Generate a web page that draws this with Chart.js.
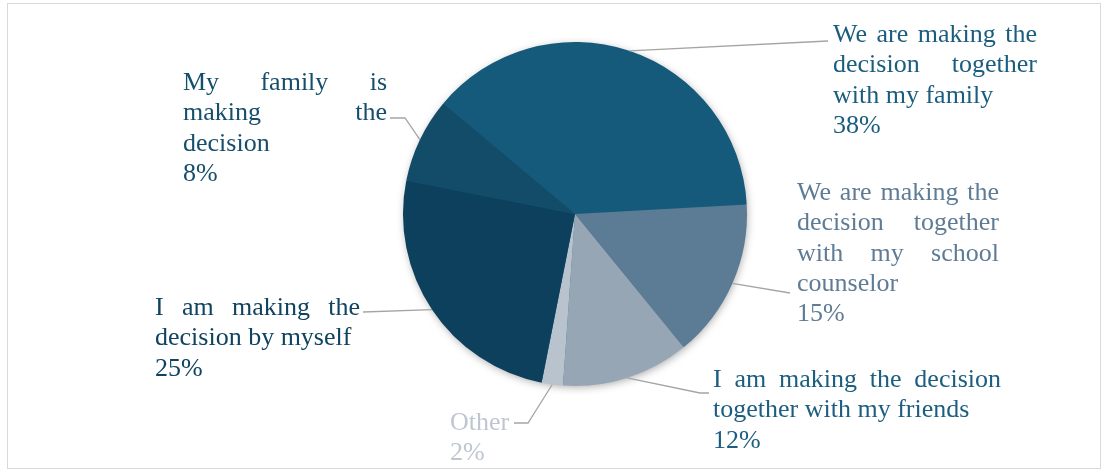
<!DOCTYPE html>
<html>
<head>
<meta charset="utf-8">
<title>Decision making</title>
<script src="https://cdn.jsdelivr.net/npm/chart.js@4"></script>
<style>
  html, body { margin: 0; padding: 0; background: #ffffff; }
  #wrap { width: 1103px; height: 470px; }
</style>
</head>
<body>
<div id="wrap"><canvas id="decisionChart" width="1103" height="470"></canvas></div>
<script>
// who makes the decision, share of answers in %
const categories = [
  'We are making the decision together with my family',
  'We are making the decision together with my school counselor',
  'I am making the decision together with my friends',
  'Other',
  'I am making the decision by myself',
  'My family is making the decision'
];
const shares = [38, 15, 12, 2, 25, 8];
const sliceColors = ['#165a7b', '#5c7b95', '#97a6b5', '#b9c3ce', '#0d405c', '#124c69'];
const labelColors = ['#1a5d7e', '#5f7c96', '#1b5e80', '#bdc6d1', '#0f4360', '#154f6b'];

// label text broken into lines (all but the last line are justified)
const labelLines = [
  ['We are making the', 'decision together', 'with my family'],
  ['We are making the', 'decision together', 'with my school', 'counselor'],
  ['I am making the decision', 'together with my friends'],
  ['Other'],
  ['I am making the', 'decision by myself'],
  ['My family is', 'making the', 'decision']
];

// where each label box sits and how its leader line bends
const labelLayout = [
  { x: 833, y: 42, w: 204, path: [[828, 41]] },
  { x: 797, y: 200, w: 202, path: [[790, 293]] },
  { x: 713, y: 387, w: 288, path: [[700, 393], [709, 393]] },
  { x: 450, y: 430, w: 60, path: [[528, 423], [514, 423]] },
  { x: 155, y: 315, w: 205, path: [[363, 312]] },
  { x: 183, y: 90, w: 204, path: [[405, 118], [390, 118]] }
];

const FONT = '26px "Liberation Serif", "Times New Roman", serif';
const LINE_H = 30.3;

function drawJustified(ctx, text, x, y, width, justify) {
  const words = text.split(' ');
  if (!justify || words.length < 2) {
    ctx.fillText(text, x, y);
    return;
  }
  const widths = words.map(w => ctx.measureText(w).width);
  const total = widths.reduce((a, b) => a + b, 0);
  const gap = (width - total) / (words.length - 1);
  let cx = x;
  words.forEach((w, i) => {
    ctx.fillText(w, cx, y);
    cx += widths[i] + gap;
  });
}

const framePlugin = {
  id: 'framePlugin',
  beforeDraw(chart) {
    const ctx = chart.ctx;
    ctx.save();
    ctx.fillStyle = '#ffffff';
    ctx.fillRect(0, 0, chart.width, chart.height);
    ctx.strokeStyle = '#d9d9d9';
    ctx.lineWidth = 1;
    ctx.strokeRect(7.5, 3.5, 1093, 465);
    ctx.restore();
  }
};

// soft shadow under the pie
const shadowPlugin = {
  id: 'shadowPlugin',
  beforeDatasetsDraw(chart) {
    const arc = chart.getDatasetMeta(0).data[0];
    if (!arc) return;
    const ctx = chart.ctx;
    ctx.save();
    ctx.shadowColor = 'rgba(0, 0, 0, 0.35)';
    ctx.shadowBlur = 9;
    ctx.shadowOffsetX = 1;
    ctx.shadowOffsetY = 2;
    ctx.fillStyle = sliceColors[0];
    ctx.beginPath();
    ctx.arc(arc.x, arc.y, arc.outerRadius - 1, 0, Math.PI * 2);
    ctx.fill();
    ctx.restore();
  }
};

const outsideLabelPlugin = {
  id: 'outsideLabelPlugin',
  afterDatasetsDraw(chart) {
    const ctx = chart.ctx;
    const meta = chart.getDatasetMeta(0);
    ctx.save();
    ctx.font = FONT;
    ctx.textBaseline = 'alphabetic';
    ctx.textAlign = 'left';
    meta.data.forEach((arc, i) => {
      const lay = labelLayout[i];
      // leader from the middle of the slice edge
      const mid = (arc.startAngle + arc.endAngle) / 2;
      const sx = arc.x + Math.cos(mid) * arc.outerRadius;
      const sy = arc.y + Math.sin(mid) * arc.outerRadius;
      ctx.strokeStyle = '#a5a5a5';
      ctx.lineWidth = 1.3;
      ctx.beginPath();
      ctx.moveTo(sx, sy);
      lay.path.forEach(p => ctx.lineTo(p[0], p[1]));
      ctx.stroke();

      ctx.fillStyle = labelColors[i];
      const lines = labelLines[i];
      lines.forEach((line, k) => {
        drawJustified(ctx, line, lay.x, lay.y + k * LINE_H, lay.w, k < lines.length - 1);
      });
      ctx.fillText(shares[i] + '%', lay.x, lay.y + lines.length * LINE_H);
    });
    ctx.restore();
  }
};

new Chart(document.getElementById('decisionChart'), {
  type: 'pie',
  data: {
    labels: categories,
    datasets: [{
      data: shares,
      backgroundColor: sliceColors,
      borderWidth: 0,
      hoverOffset: 0
    }]
  },
  options: {
    responsive: false,
    animation: false,
    rotation: -50,
    layout: { padding: { left: 403, right: 356, top: 42, bottom: 84 } },
    plugins: {
      legend: { display: false },
      tooltip: { enabled: false }
    },
    events: []
  },
  plugins: [framePlugin, shadowPlugin, outsideLabelPlugin]
});
</script>
</body>
</html>
